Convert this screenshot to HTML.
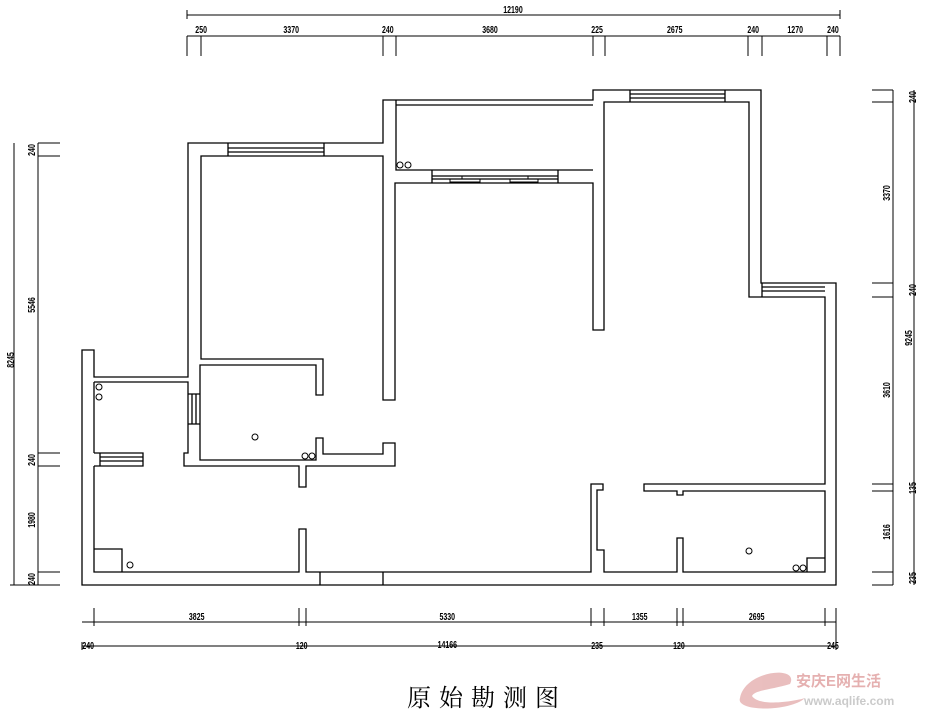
<!DOCTYPE html>
<html><head><meta charset="utf-8"><style>
html,body{margin:0;padding:0;background:#fff;}
svg{display:block}
.t{font-family:"Liberation Sans",sans-serif;font-size:10px;font-weight:bold;fill:#000}
</style></head><body>
<svg width="933" height="715" viewBox="0 0 933 715" xmlns="http://www.w3.org/2000/svg">
<g fill="none" stroke="#000" stroke-width="1.3">
<path d="M188,143 H383 V100 H593 V90 H761 V283 H836 V585 H82 V350 H94 V377 H188 Z"/>
<path d="M94,382 H188 V453 H184 V466 H299 V487 H306 V466 H395 V443 H383 V454 H323 V438 H316 V460 H200 V365 H316 V395 H323 V359 H201 V156 H383 V400 H395 V183 H593 V330 H604 V102 H749 V297 H825 V484 H644 V491 H677 V495 H683 V491 H825 V572 H683 V538 H677 V572 H604 V550 H597 V490 H603 V484 H591 V572 H306 V529 H299 V572 H94 V466"/>
<path d="M94,453 V382"/>
<path d="M188,394 H200 M188,424 H200 M192,394 V424 M196,394 V424"/>
<path d="M396,100 V170 H593 M396,105 H593"/>
<path d="M228,143 V156 M324,143 V156 M228,148 H324 M228,152 H324"/>
<path d="M630,90 V102 M725,90 V102 M630,94 H725 M630,98 H725"/>
<path d="M762,283 V297 M762,287 H825 M762,291 H825"/>
<path d="M432,170 V183 M558,170 V183 M432,176 H558 M432,179 H558"/>
<path d="M432,176 H462 V179 H480 V182 H450 V179 M558,176 H528 V179 H510 V182 H538 V179" stroke-width="1"/>
<path d="M94,453 H143 V466 H94 M100,453 V466 M100,457 H143 M100,461 H143"/>
<path d="M320,572 V585 M383,572 V585"/>
<path d="M94,549 H122 V572 M807,572 V558 H825"/>
<g stroke-width="1">
<circle cx="99" cy="387" r="3"/><circle cx="99" cy="397" r="3"/>
<circle cx="255" cy="437" r="3"/><circle cx="305" cy="456" r="3"/><circle cx="312" cy="456" r="3"/>
<circle cx="400" cy="165" r="3"/><circle cx="408" cy="165" r="3"/>
<circle cx="130" cy="565" r="3"/><circle cx="749" cy="551" r="3"/>
<circle cx="796" cy="568" r="3"/><circle cx="803" cy="568" r="3"/>
</g>
</g>
<g fill="none" stroke="#000" stroke-width="1">
<path d="M187,15 H840 M187,10 V19 M840,10 V19"/>
<path d="M187,36 H840"/>
<path d="M187,36 V56 M201,36 V56 M383,36 V56 M396,36 V56 M593,36 V56 M605,36 V56 M748,36 V56 M762,36 V56 M827,36 V56 M840,36 V56"/>
<path d="M14,143 V585 M38,143 V585"/>
<path d="M38,143 H60 M38,156 H60 M38,453 H60 M38,466 H60 M38,572 H60 M38,585 H60 M10,585 H38"/>
<path d="M893,90 V585 M914,90 V585"/>
<path d="M872,90 H893 M872,102 H893 M872,283 H893 M872,297 H893 M872,484 H893 M872,491 H893 M872,572 H893 M872,585 H893"/>
<path d="M82,622 H836 M82,646 H836"/>
<path d="M94,608 V626 M299,608 V626 M306,608 V626 M591,608 V626 M604,608 V626 M677,608 V626 M683,608 V626 M825,608 V626 M836,608 V650 M82,642 V650"/>
</g>
<g class="t">
<text x="513" y="13" text-anchor="middle" transform="translate(513,0) scale(0.7,1) translate(-513,0)">12190</text>
<g transform="scale(0.7,1)">
<text x="279" y="33">250</text>
<text x="416" y="33" text-anchor="middle">3370</text>
<text x="554" y="33" text-anchor="middle">240</text>
<text x="700" y="33" text-anchor="middle">3680</text>
<text x="853" y="33" text-anchor="middle">225</text>
<text x="964" y="33" text-anchor="middle">2675</text>
<text x="1076" y="33" text-anchor="middle">240</text>
<text x="1136" y="33" text-anchor="middle">1270</text>
<text x="1190" y="33" text-anchor="middle">240</text>
<text x="281" y="620" text-anchor="middle">3825</text>
<text x="639" y="620" text-anchor="middle">5330</text>
<text x="914" y="620" text-anchor="middle">1355</text>
<text x="1081" y="620" text-anchor="middle">2695</text>
<text x="126" y="649" text-anchor="middle">240</text>
<text x="431" y="649" text-anchor="middle">120</text>
<text x="639" y="648" text-anchor="middle">14166</text>
<text x="853" y="649" text-anchor="middle">235</text>
<text x="970" y="649" text-anchor="middle">120</text>
<text x="1190" y="649" text-anchor="middle">245</text>
</g>
<g font-size="10">
<text transform="translate(14,360) rotate(-90) scale(0.7,1)" text-anchor="middle">8245</text>
<text transform="translate(35,150) rotate(-90) scale(0.7,1)" text-anchor="middle">240</text>
<text transform="translate(35,305) rotate(-90) scale(0.7,1)" text-anchor="middle">5546</text>
<text transform="translate(35,460) rotate(-90) scale(0.7,1)" text-anchor="middle">240</text>
<text transform="translate(35,520) rotate(-90) scale(0.7,1)" text-anchor="middle">1980</text>
<text transform="translate(35,579) rotate(-90) scale(0.7,1)" text-anchor="middle">240</text>
<text transform="translate(916,97) rotate(-90) scale(0.7,1)" text-anchor="middle">240</text>
<text transform="translate(890,193) rotate(-90) scale(0.7,1)" text-anchor="middle">3370</text>
<text transform="translate(916,290) rotate(-90) scale(0.7,1)" text-anchor="middle">240</text>
<text transform="translate(912,338) rotate(-90) scale(0.7,1)" text-anchor="middle">9245</text>
<text transform="translate(890,390) rotate(-90) scale(0.7,1)" text-anchor="middle">3610</text>
<text transform="translate(916,488) rotate(-90) scale(0.7,1)" text-anchor="middle">135</text>
<text transform="translate(890,532) rotate(-90) scale(0.7,1)" text-anchor="middle">1616</text>
<text transform="translate(916,578) rotate(-90) scale(0.7,1)" text-anchor="middle">235</text>
</g>
</g>
<text x="487" y="706" text-anchor="middle" font-family="'Liberation Serif','Noto Serif CJK SC',serif" font-size="24" letter-spacing="8" fill="#000">原始勘测图</text>
<g opacity="0.55">
<path d="M740,698 C745,670 800,665 790,684 C770,690 755,690 752,696 C760,708 800,700 805,698 C790,712 735,712 740,698 Z" fill="#d88a8a"/>
<text x="796" y="686" font-family="'Liberation Sans','Noto Sans CJK SC',sans-serif" font-size="15" font-weight="bold" fill="#d07070">安庆E网生活</text>
<text x="804" y="705" font-family="'Liberation Sans',sans-serif" font-size="12" font-weight="bold" fill="#a0a0a0">www.aqlife.com</text>
</g>
</svg>
</body></html>
